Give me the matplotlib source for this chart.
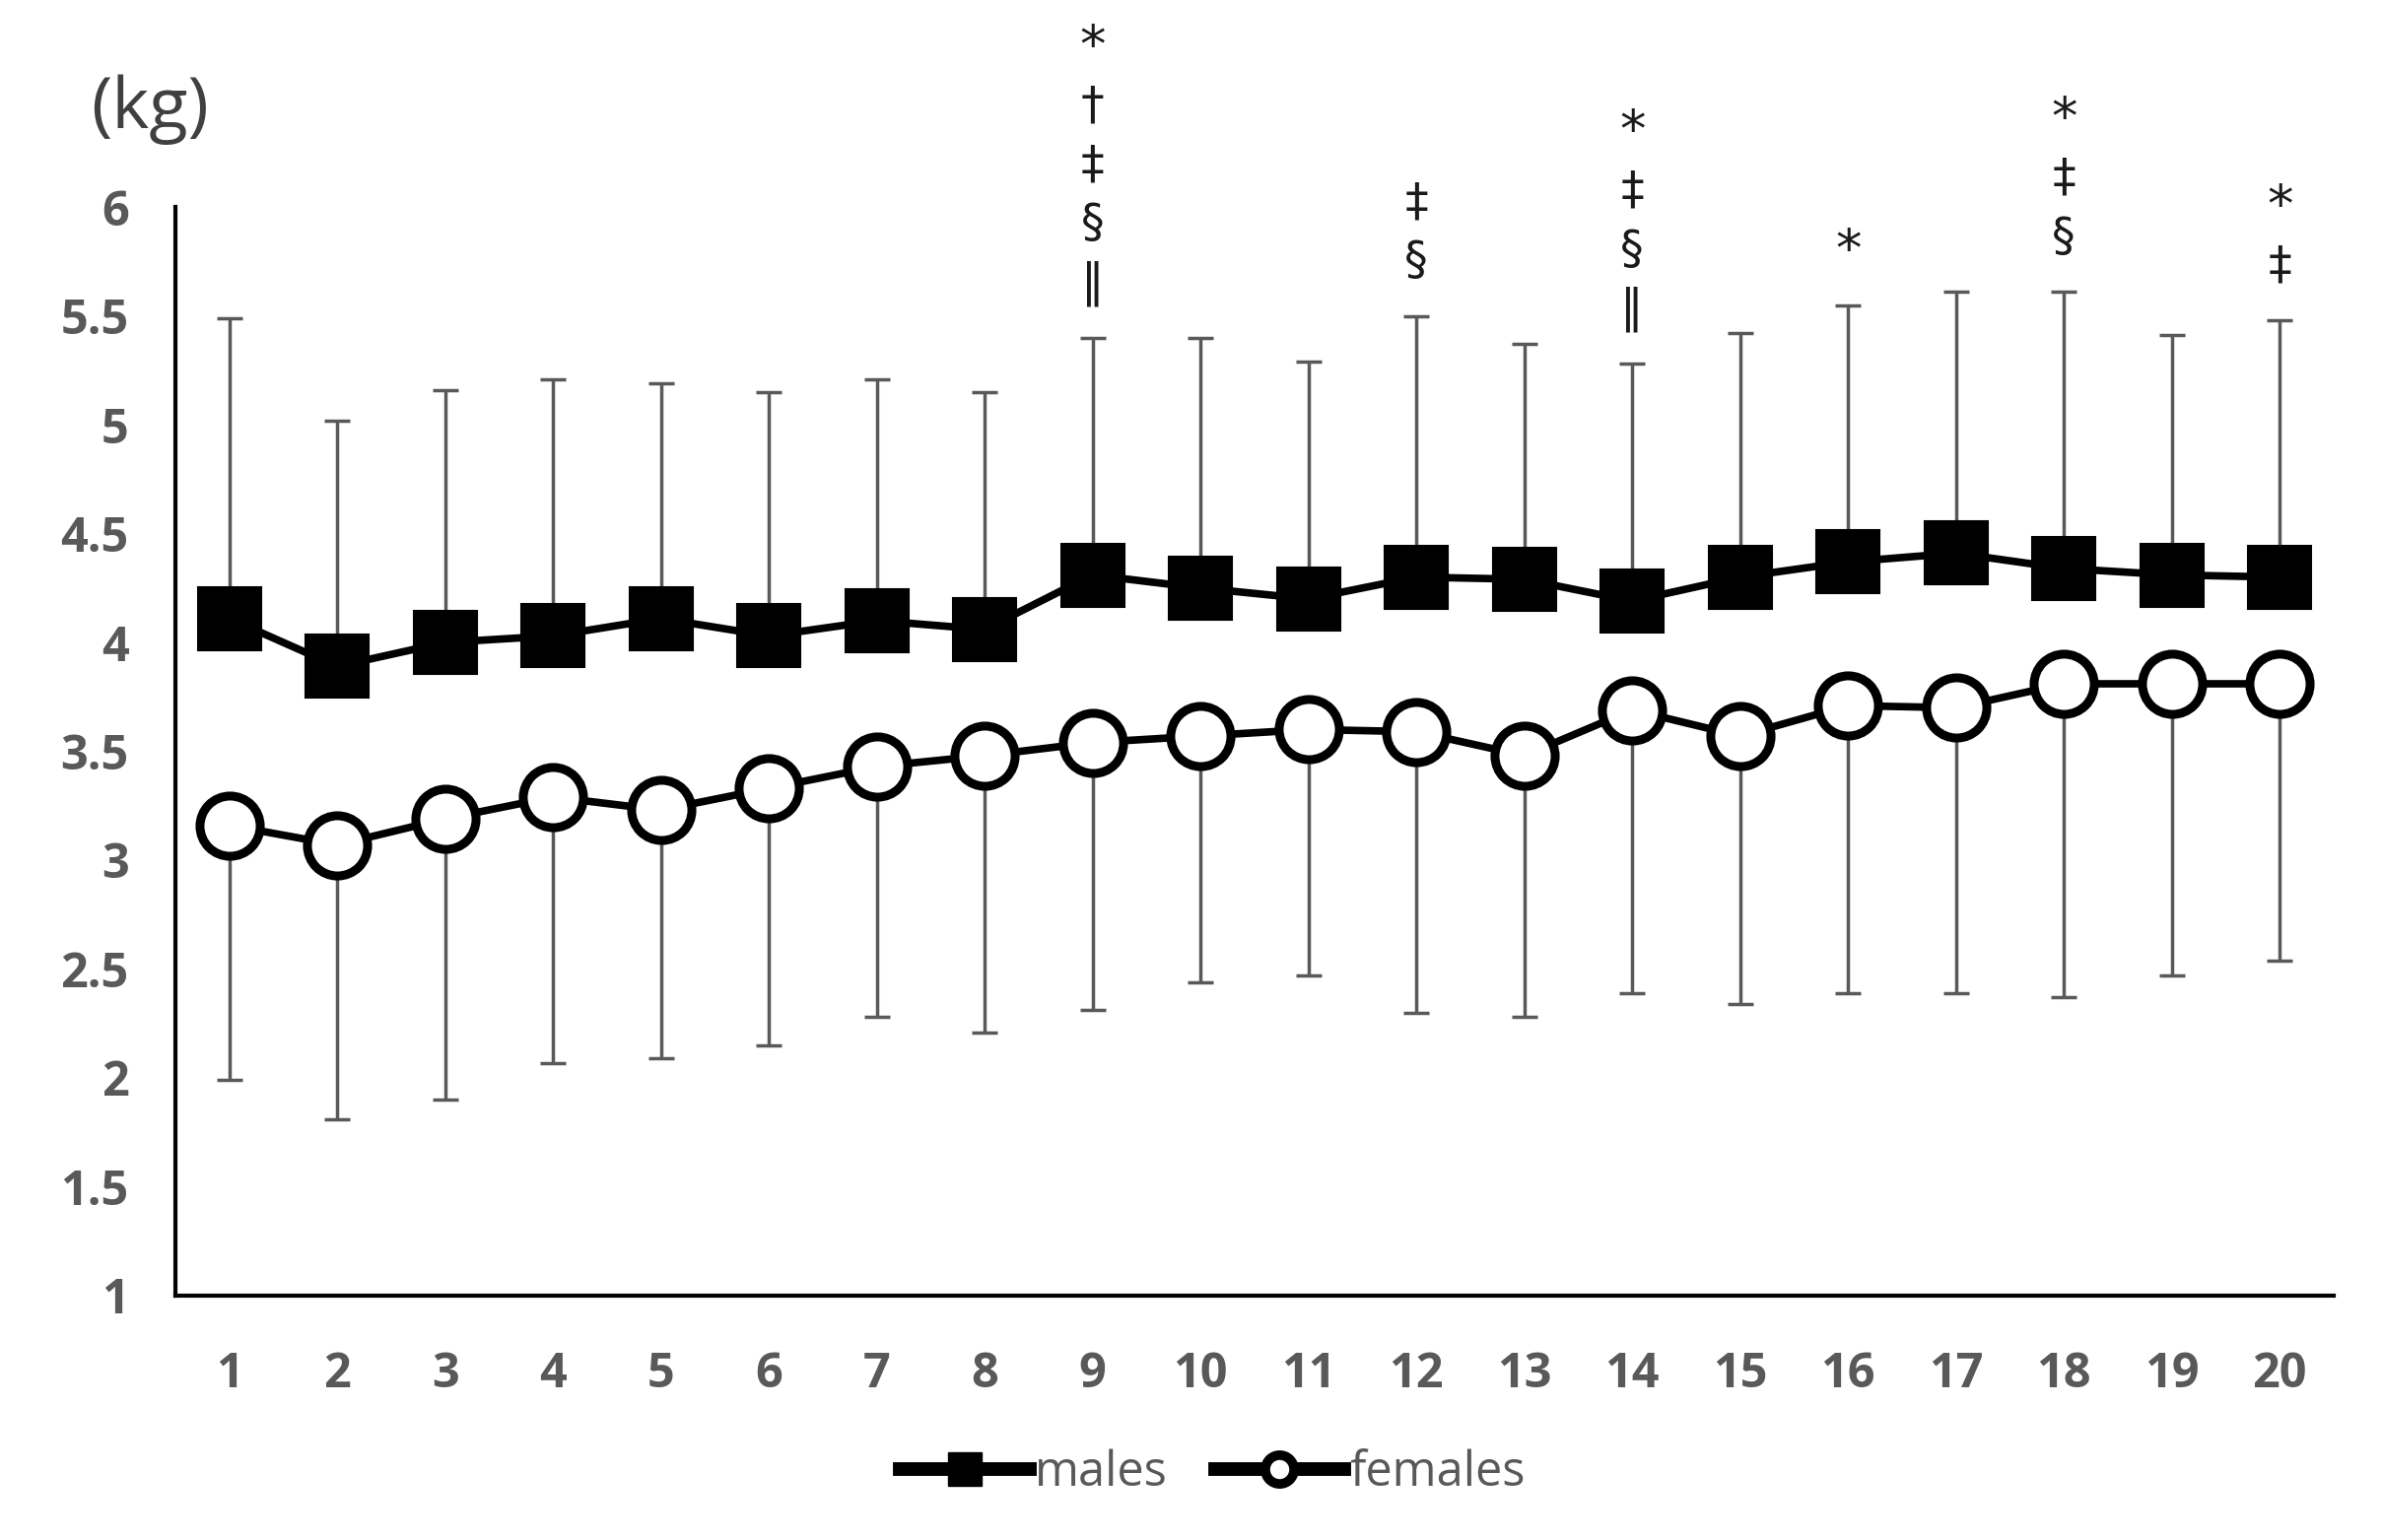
import matplotlib
matplotlib.use('Agg')
import matplotlib.pyplot as plt
from matplotlib.lines import Line2D

# day index
days = list(range(1, 21))

# means and SD (kg)
males_mean = [4.11, 3.89, 4.00, 4.03, 4.11, 4.03, 4.10, 4.06, 4.31, 4.25,
              4.20, 4.30, 4.29, 4.19, 4.30, 4.37, 4.41, 4.34, 4.31, 4.30]
males_sd = [1.38, 1.13, 1.16, 1.18, 1.08, 1.12, 1.11, 1.09, 1.09, 1.15,
            1.09, 1.20, 1.08, 1.09, 1.12, 1.18, 1.20, 1.27, 1.10, 1.18]
females_mean = [3.16, 3.07, 3.19, 3.29, 3.23, 3.33, 3.43, 3.48, 3.54, 3.57,
                3.60, 3.59, 3.48, 3.69, 3.57, 3.71, 3.70, 3.81, 3.81, 3.81]
females_sd = [1.17, 1.26, 1.29, 1.22, 1.14, 1.18, 1.15, 1.27, 1.23, 1.13,
              1.13, 1.29, 1.20, 1.30, 1.23, 1.32, 1.31, 1.44, 1.34, 1.27]

# significance marks (top to bottom) above the male bars
marks = {9: ['*', '†', '‡', '§', '‖'],
         12: ['‡', '§'],
         14: ['*', '‡', '§', '‖'],
         16: ['*'],
         18: ['*', '‡', '§'],
         20: ['*', '‡']}

yticks = [1, 1.5, 2, 2.5, 3, 3.5, 4, 4.5, 5, 5.5, 6]
ytick_labels = ['1', '1.5', '2', '2.5', '3', '3.5', '4', '4.5', '5', '5.5', '6']

plt.rcParams['font.family'] = ['Open Sans', 'DejaVu Sans']

fig = plt.figure(figsize=(24.17, 15.63), dpi=100)
ax = fig.add_axes([0.0736, 0.1587, 0.9061, 0.7069])

bar_color = '#595959'
zero = [0]*len(days)
ax.errorbar(days, males_mean, yerr=[zero, males_sd], fmt='none', ecolor=bar_color,
            elinewidth=2.5, capsize=9.5, capthick=2.5, zorder=1)
ax.errorbar(days, females_mean, yerr=[females_sd, zero], fmt='none', ecolor=bar_color,
            elinewidth=2.5, capsize=9.5, capthick=2.5, zorder=1)

ax.plot(days, males_mean, color='black', lw=5.5, marker='s', ms=46,
        mfc='black', mec='black', mew=1.5, zorder=3)
ax.plot(days, females_mean, color='black', lw=5.5, marker='o', ms=44,
        mfc='white', mec='black', mew=6.5, zorder=3)

# stacked symbols
px = 72.0/100
for d, syms in marks.items():
    top = males_mean[d-1] + males_sd[d-1]
    n = len(syms)
    for k, s in enumerate(syms):
        off = 55 + (n-1-k)*60
        size = 38 if s == '*' else 34
        ax.annotate(s, (d, top), xytext=(0, off*px), textcoords='offset points',
                    ha='center', va='center', fontsize=size, color='#1a1a1a',
                    family='DejaVu Sans', annotation_clip=False)

ax.set_xlim(0.5, 20.5)
ax.set_ylim(1, 6)
ax.set_xticks(days)
ax.set_xticklabels([str(d) for d in days])
ax.set_yticks(yticks)
ax.set_yticklabels(ytick_labels)
ax.tick_params(length=0, labelsize=35, labelcolor='#595959')
ax.tick_params(axis='y', pad=34)
ax.tick_params(axis='x', pad=40)
for lab in ax.get_xticklabels() + ax.get_yticklabels():
    lab.set_fontweight('bold')

for side in ['top', 'right']:
    ax.spines[side].set_visible(False)
for side in ['left', 'bottom']:
    ax.spines[side].set_linewidth(3)
    ax.spines[side].set_color('black')

fig.text(92/2417, 1-111/1563, '(kg)', fontsize=52, color='#404040', va='center', ha='left')

handles = [Line2D([], [], color='black', lw=10, marker='s', ms=25, mfc='black', mec='black'),
           Line2D([], [], color='black', lw=10, marker='o', ms=21, mfc='white', mec='black', mew=7)]
fig.legend(handles, ['males', 'females'], loc='center', bbox_to_anchor=(0.509, 0.0435),
           ncol=2, frameon=False, fontsize=35, labelcolor='#595959',
           handlelength=2.7, handletextpad=0.1, columnspacing=1.0)

fig.savefig('out.png', dpi=100)
